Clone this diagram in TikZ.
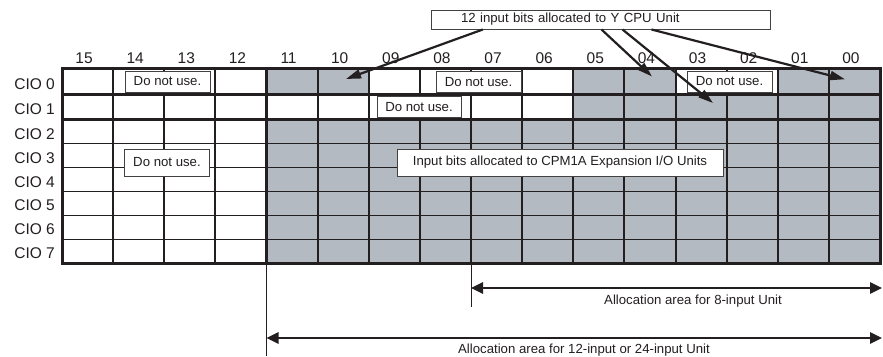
\documentclass[tikz,border=0pt]{standalone}
\usepackage{fontspec}
\setmainfont{Liberation Sans}
\usepackage{tikz}
\usetikzlibrary{arrows.meta,positioning,calc}
\definecolor{cgray}{HTML}{B4BAC2}
\definecolor{cink}{HTML}{231F20}
\newcommand{\smallfnt}{\fontsize{13.2bp}{15bp}\selectfont}
\newcommand{\bigfnt}{\fontsize{15.5bp}{18bp}\selectfont}
\newcommand{\cw}{51.125}

\begin{document}
\begin{tikzpicture}[x=1bp,y=-1bp,
    every node/.style={align=center,font=\smallfnt,inner sep=0pt,text=cink},
    note/.style={draw=cink!85,line width=1bp,fill=white,
                 minimum width=85bp,minimum height=21bp},
    hdr/.style={font=\bigfnt},
    frm/.style={line width=3bp,cink},
    vln/.style={line width=2bp,cink},
    hln/.style={line width=1.2bp,cink},
    ext/.style={line width=1bp,cink},
    arr/.style={-{Triangle[length=15bp,width=9bp]},line width=2.2bp,cink},
    dbl/.style={{Triangle[length=12bp,width=11bp]}-{Triangle[length=12bp,width=11bp]},
                line width=2.6bp,cink}
  ]
  \useasboundingbox (0,0) rectangle (883,356);
  % allocated cells
  \fill[cgray] (62+4*\cw,68.5) rectangle (62+6*\cw,94);
  \fill[cgray] (62+10*\cw,68.5) rectangle (62+12*\cw,94);
  \fill[cgray] (62+14*\cw,68.5) rectangle (880,94);
  \fill[cgray] (62+10*\cw,94) rectangle (880,119.5);
  \fill[cgray] (62+4*\cw,119.5) rectangle (880,263.5);
  % grid
  \foreach \y in {143.5,167.5,191.5,215.5,239.5}
    \draw[hln] (62,\y) -- (880,\y);
  \foreach \i in {1,2,3,5,6,...,15}
    \draw[vln] (62+\i*\cw,68.5) -- (62+\i*\cw,263.5);
  \draw[line width=2.8bp,cink] (62+4*\cw,68.5) -- (62+4*\cw,263.5);
  \draw[frm] (62,94) -- (880,94);
  \draw[frm] (62,119.5) -- (880,119.5);
  \draw[frm] (62,68.5) rectangle (880,263.5);
  \draw[ext] (62+4*\cw,263.5) -- (62+4*\cw,356);
  \draw[ext] (62+8*\cw,263.5) -- (62+8*\cw,307);
  % bit numbers and words
  \foreach \b [count=\i from 0] in {15,14,13,12,11,10,09,08,07,06,05,04,03,02,01,00}
    \node[hdr] (h\b) at (62+\i*\cw+\cw/2-3.5,58) {\b};
  \foreach \r/\y in {0/84.5,1/109.5,2/134,3/158,4/182,5/205.5,6/229.5,7/253}
    \node[hdr,anchor=east] (r\r) at (55,\y) {CIO \r};
  % notes
  \node[note] (dn0a) at (167.5,81.5) {Do not use.};
  \node[note] (dn0b) at (478.5,82) {Do not use.};
  \node[note] (dn0c) at (729.5,81.5) {Do not use.};
  \node[note,minimum width=84bp,minimum height=20.5bp] (dn1) at (419,107) {Do not use.};
  \node[note,minimum height=27bp] (dn34) at (167,162.5) {Do not use.};
  \node[note,minimum height=27bp,minimum width=326bp] (exp) at (560,162.5)
    {Input bits allocated to CPM1A Expansion I/O Units};
  \node[draw=cink!85,line width=1bp,fill=white,inner xsep=30bp,text width=279bp,
        align=left,minimum height=19bp] (cpu) at (600.5,19.5)
    {12 input bits allocated to Y CPU Unit};
  \coordinate (t10) at (346,79);
  \coordinate (t04) at (652,76.5);
  \coordinate (t03) at (713,103);
  \coordinate (t00) at (845,79.3);
  \draw[arr] ($(cpu.south west)+(52.3,0)$) -- (t10);
  \draw[arr] ($(cpu.south west)+(171,0)$) -- (t04);
  \draw[arr] ($(cpu.south west)+(192,0)$) -- (t03);
  \draw[arr] ($(cpu.south west)+(221,0)$) -- (t00);
  % allocation areas
  \coordinate (a8) at (62+8*\cw,288);
  \coordinate (e8) at (882,288);
  \coordinate (a12) at (62+4*\cw,338);
  \coordinate (e12) at (882,338);
  \draw[dbl] (a8) -- (e8);
  \draw[dbl] (a12) -- (e12);
  \node[anchor=base] (l8) at (693,304) {Allocation area for 8-input Unit};
  \node[anchor=base] (l12) at (584,353) {Allocation area for 12-input or 24-input Unit};
\end{tikzpicture}
\end{document}
